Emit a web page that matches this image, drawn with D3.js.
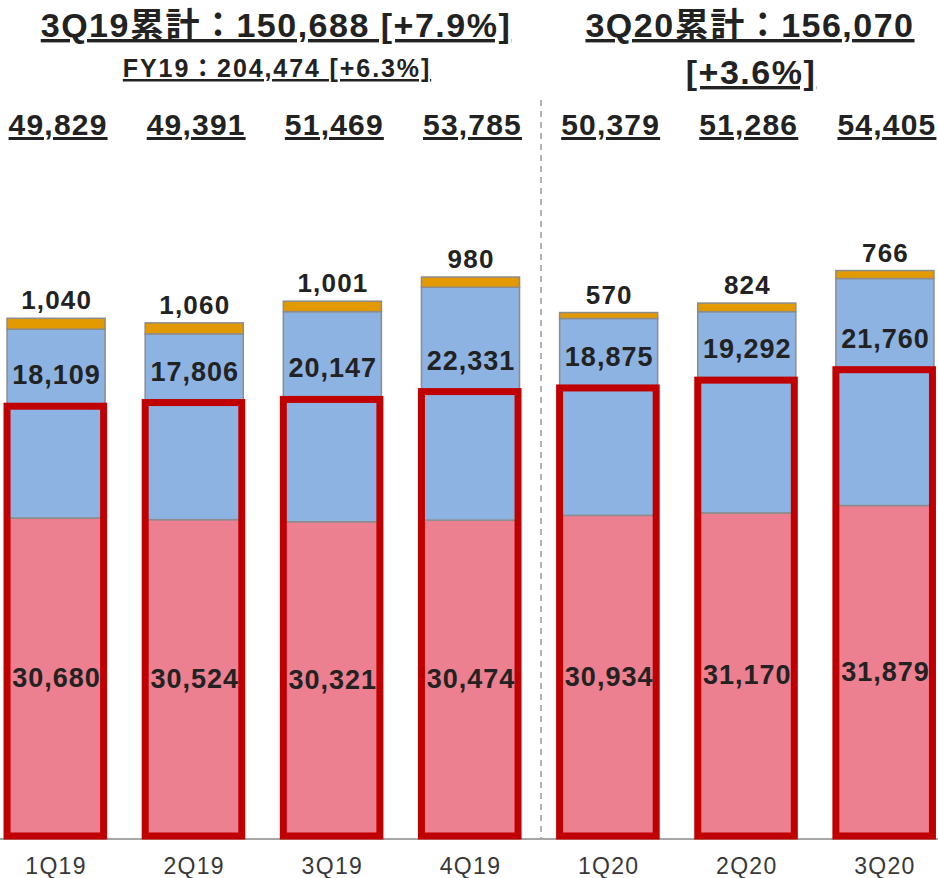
<!DOCTYPE html>
<html><head><meta charset="utf-8">
<script src="https://cdn.jsdelivr.net/npm/d3@7"></script>
<style>
html,body{margin:0;padding:0;background:#fff;}
svg{display:block;font-family:"Liberation Sans",Arial,"Noto Sans CJK JP",sans-serif;}
</style></head><body>
<svg id="c" width="938" height="878"></svg>
<script>
const quarters = ['1Q19','2Q19','3Q19','4Q19','1Q20','2Q20','3Q20'];
const pinkValues = [30680,30524,30321,30474,30934,31170,31879];
const blueValues = [18109,17806,20147,22331,18875,19292,21760];
const orangeValues = [1040,1060,1001,980,570,824,766];
const totalValues = [49829,49391,51469,53785,50379,51286,54405];
const highlightValues = [41400,41750,42050,42800,43150,43900,44900];
const titleLeft = ['3Q19累計：150,688 [+7.9%]', 'FY19：204,474 [+6.3%]'];
const titleRight = ['3Q20累計：156,070', '[+3.6%]'];

const svg = d3.select('#c');
const fmt = d3.format(',');
const baseY = 838;
const x = d3.scaleBand().domain(quarters).range([-13, 954]).paddingInner(0.29).paddingOuter(0.145);
const y = d3.scaleLinear().domain([0, 60000]).range([baseY, baseY - 60000*0.01043]);
const bw = x.bandwidth();

const rows = quarters.map((q,i)=>({q, pink:pinkValues[i], blue:blueValues[i], orange:orangeValues[i], total:totalValues[i], hl:highlightValues[i]}));
const stack = d3.stack().keys(['pink','blue','orange'])(rows);
const colors = {pink:'#EC7F90', blue:'#8DB3E2', orange:'#E29A00'};

// separator
svg.append('line').attr('x1',541).attr('x2',541).attr('y1',100).attr('y2',baseY)
  .attr('stroke','#8a8a8a').attr('stroke-width',1.3).attr('stroke-dasharray','6,5');

// stacked segments
stack.forEach(layer=>{
  svg.append('g').selectAll('rect').data(layer).join('rect')
    .attr('x', d=>x(d.data.q)).attr('width', bw)
    .attr('y', d=>y(d[1])).attr('height', d=>y(d[0])-y(d[1]))
    .attr('fill', colors[layer.key]).attr('stroke','#8c8c8c').attr('stroke-width',1.5);
});

// axis
const axis = svg.append('g').attr('transform',`translate(0,${baseY+1})`)
  .call(d3.axisBottom(x).tickSize(0).tickPadding(19));
axis.select('.domain').remove();
svg.append('line').attr('x1',0).attr('x2',938).attr('y1',baseY+1).attr('y2',baseY+1).attr('stroke','#a6a6a6').attr('stroke-width',2);
axis.selectAll('text').attr('font-size',23).attr('fill','#383838').attr('letter-spacing','1.3px')
  .attr('font-family','"Liberation Sans",Arial,sans-serif');

// highlight boxes
svg.append('g').selectAll('rect').data(rows).join('rect')
  .attr('x', d=>x(d.q)).attr('width', bw-1.5)
  .attr('y', d=>y(d.hl)).attr('height', d=>y(0)-2-y(d.hl))
  .attr('fill','none').attr('stroke','#C00000').attr('stroke-width',7);

const lbl = (sel)=>sel.attr('text-anchor','middle').attr('dominant-baseline','central')
  .attr('font-weight','bold').attr('fill','#222');

// pink labels
svg.append('g').selectAll('text').data(rows).join('text').call(lbl)
  .attr('font-size',27).attr('letter-spacing','1px')
  .attr('x', d=>x(d.q)+bw/2+0.5).attr('y', d=>(y(0)+y(d.pink))/2).text(d=>fmt(d.pink));
// blue labels
svg.append('g').selectAll('text').data(rows).join('text').call(lbl)
  .attr('font-size',27).attr('letter-spacing','1px')
  .attr('x', d=>x(d.q)+bw/2+0.5).attr('y', d=>y(d.hl)-31).text(d=>fmt(d.blue));
// orange labels
svg.append('g').selectAll('text').data(rows).join('text').call(lbl)
  .attr('font-size',26).attr('letter-spacing','1.2px')
  .attr('x', d=>x(d.q)+bw/2+0.6).attr('y', d=>y(d.total)-18).text(d=>fmt(d.orange));
// totals
svg.append('g').selectAll('text').data(rows).join('text').call(lbl)
  .attr('font-size',30).attr('letter-spacing','1.2px').attr('text-decoration','underline').attr('dominant-baseline','auto')
  .attr('x', d=>x(d.q)+bw/2+2).attr('y', 135).text(d=>fmt(d.total));

// titles
const t = (tx, xx, yy, fs, ls)=>svg.append('text').attr('x',xx).attr('y',yy).attr('text-anchor','middle')
  .attr('font-weight','bold').attr('font-size',fs).attr('letter-spacing',ls+'px')
  .attr('fill','#222').attr('text-decoration','underline').text(tx);
t(titleLeft[0], 276, 37, 34, 1.5);
t(titleLeft[1], 277, 77, 25, 1.9);
t(titleRight[0], 750, 37, 34, 1.5);
t(titleRight[1], 751, 84, 34, 1.5);
</script>
</body></html>
